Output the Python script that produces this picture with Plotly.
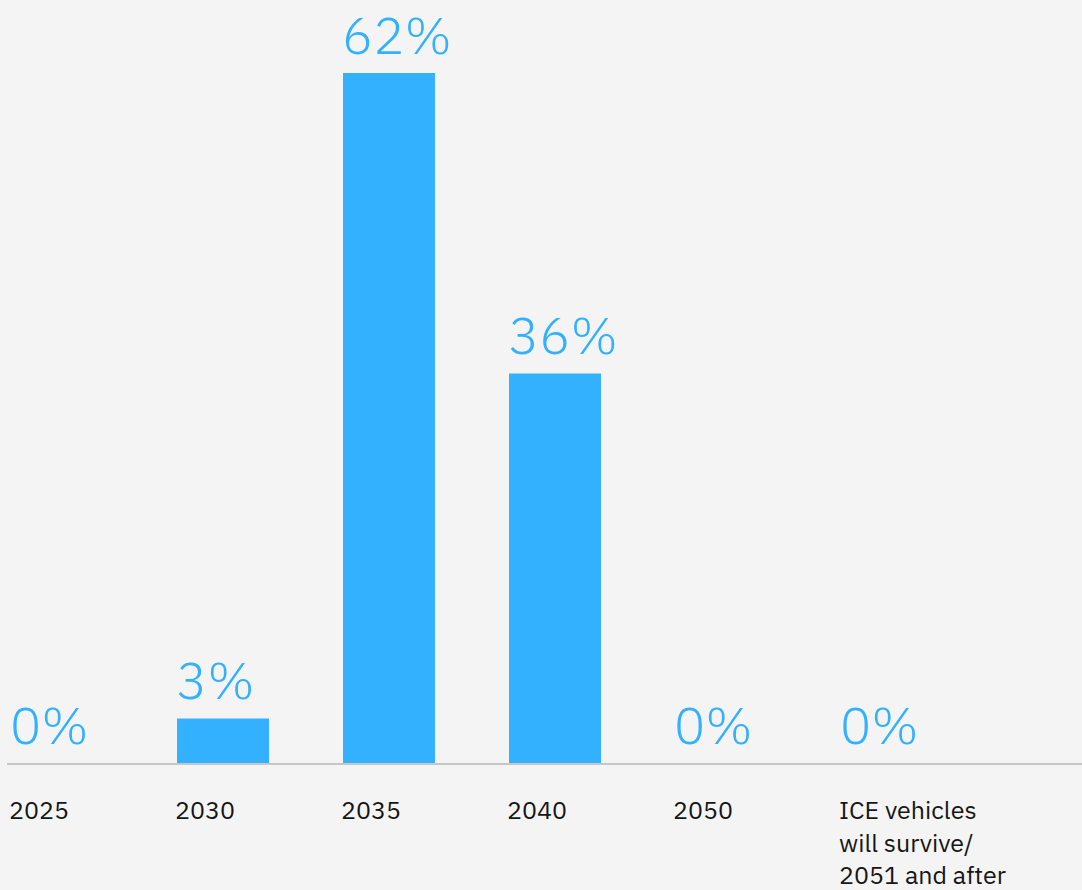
import plotly.graph_objects as go

categories = ["2025", "2030", "2035", "2040", "2050",
              "ICE vehicles<br>will survive/<br>2051 and after"]
pct_labels = [0, 3, 62, 36, 0, 0]
bar_heights = [0, 4.0, 62, 35.0, 0, 0]

BLUE = "#33b1ff"
BG = "#f4f4f4"
xpos = list(range(len(categories)))
bar_w = 0.554

fig = go.Figure()
fig.add_trace(go.Bar(x=xpos, y=bar_heights, width=bar_w, marker=dict(color=BLUE, line=dict(width=0)),
                     hoverinfo="skip"))

for i, (h, p) in enumerate(zip(bar_heights, pct_labels)):
    fig.add_annotation(x=i - bar_w / 2, y=h, xref="x", yref="y", text=f"{p}%",
                       xanchor="left", yanchor="bottom", showarrow=False, yshift=3, xshift=-3,
                       font=dict(family="IBM Plex Sans, Noto Sans, sans-serif", size=52, color=BLUE, weight=300))
    fig.add_annotation(x=i - bar_w / 2, y=0, xref="x", yref="paper", text=categories[i],
                       xanchor="left", yanchor="top", align="left", showarrow=False, yshift=-28, xshift=-4,
                       font=dict(family="IBM Plex Sans, Noto Sans, sans-serif", size=25, color="#161616"))

fig.update_layout(
    width=1082, height=890,
    margin=dict(l=7, r=0, t=0, b=127),
    paper_bgcolor=BG, plot_bgcolor=BG,
    showlegend=False,
    xaxis=dict(range=[-0.3012, 6.1747], showticklabels=False, showgrid=False, zeroline=False,
               showline=True, linecolor="#c6c6c6", linewidth=2, ticks=""),
    yaxis=dict(range=[0, 68.56], visible=False, showgrid=False, zeroline=False),
)
fig.write_html("out.html")
